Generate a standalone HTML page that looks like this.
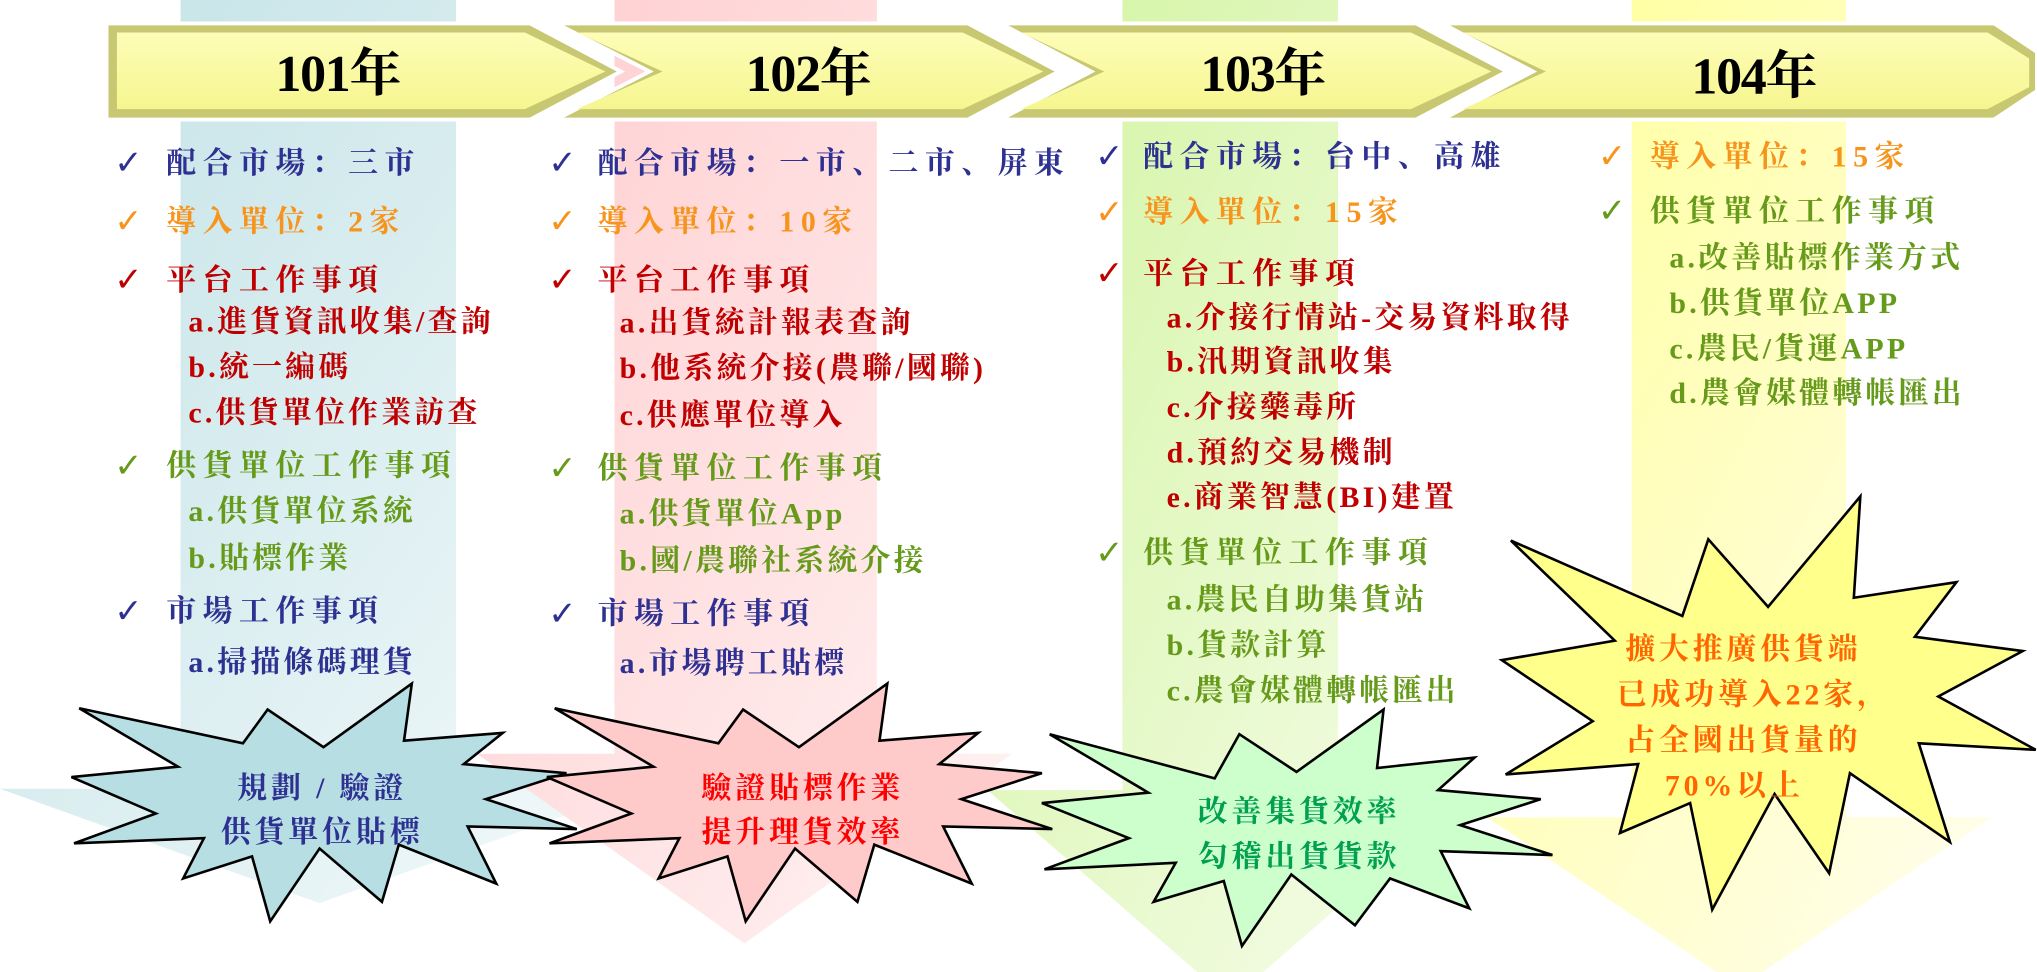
<!DOCTYPE html>
<html><head><meta charset="utf-8"><style>
html,body{margin:0;padding:0;background:#fff;}
svg{display:block;}
text{font-family:"Liberation Serif","Noto Serif CJK SC","Noto Serif CJK TC",serif;font-weight:bold;}
.h{font-size:23px;letter-spacing:5px;}
.s{font-size:23px;letter-spacing:2.5px;}
.ck{font-family:"DejaVu Sans",sans-serif;font-weight:normal;font-size:26px;}
.yr{font-size:40px;fill:#000;letter-spacing:-1px;}
.st{font-size:23px;letter-spacing:3px;}
</style></head><body>
<svg width="2037" height="972" viewBox="0 0 1568 748" preserveAspectRatio="none" xmlns="http://www.w3.org/2000/svg">
<defs>
<linearGradient id="gT" x1="0" y1="0" x2="1" y2="1"><stop offset="0" stop-color="#c2e2e6"/><stop offset="1" stop-color="#f4fafb"/></linearGradient>
<linearGradient id="gP" x1="0" y1="0" x2="1" y2="1"><stop offset="0" stop-color="#ffcdcf"/><stop offset="1" stop-color="#fff4f4"/></linearGradient>
<linearGradient id="gG" x1="0" y1="0" x2="1" y2="1"><stop offset="0" stop-color="#d2f4a0"/><stop offset="1" stop-color="#f8fdee"/></linearGradient>
<linearGradient id="gY" x1="0" y1="0" x2="1" y2="1"><stop offset="0" stop-color="#ffff99"/><stop offset="1" stop-color="#fffef0"/></linearGradient>
<linearGradient id="cv" x1="0" y1="0" x2="0" y2="1"><stop offset="0" stop-color="#fdfdb8"/><stop offset="1" stop-color="#f6f690"/></linearGradient>
</defs>
<polygon points="139,0 351,0 351,607 492,607 246,695 0,607 139,607" fill="url(#gT)"/>
<polygon points="473,0 675,0 675,580 779,580 573,726 367,580 473,580" fill="url(#gP)"/>
<polygon points="864,0 1030,0 1030,608 1134,608 947,770 760,608 864,608" fill="url(#gG)"/>
<polygon points="1256,0 1421,0 1421,629 1533,629 1339,760 1145,629 1256,629" fill="url(#gY)"/>
<g stroke="#fff" stroke-width="3">
<polygon points="1110,18 1535,18 1568,40 1568,70 1535,92 1110,92 1180,55" fill="#c8c872"/>
<polygon points="770,18 1090,18 1160,55 1090,92 770,92 840,55" fill="#c8c872"/>
<polygon points="428,18 745,18 815,55 745,92 428,92 500,55" fill="#c8c872"/>
<polygon points="82,18 408,18 478,55 408,92 82,92" fill="#c8c872"/>
</g>
<polygon points="1126,25 1530,25 1562,45 1562,67 1530,84 1126,84 1190,55" fill="url(#cv)"/>
<polygon points="786,25 1086,25 1148,55 1086,84 786,84 850,55" fill="url(#cv)"/>
<polygon points="444,25 741,25 803,55 741,84 444,84 510,55" fill="url(#cv)"/>
<polygon points="90,25 404,25 466,55 404,84 90,84" fill="url(#cv)"/>
<text class="yr" x="260" y="70" text-anchor="middle">101年</text>
<text class="yr" x="622" y="70" text-anchor="middle">102年</text>
<text class="yr" x="972" y="70" text-anchor="middle">103年</text>
<text class="yr" x="1350" y="72" text-anchor="middle">104年</text>

<g>
<text class="ck" x="88" y="134" fill="#2e3192">✓</text><text class="h" x="128" y="133" fill="#2e3192">配合市場：三市</text>
<text class="ck" x="88" y="179" fill="#f7941d">✓</text><text class="h" x="128" y="178" fill="#f7941d">導入單位：2家</text>
<text class="ck" x="88" y="224" fill="#c00000">✓</text><text class="h" x="128" y="223" fill="#c00000">平台工作事項</text>
<text class="s" x="145" y="255" fill="#c00000">a.進貨資訊收集/查詢</text>
<text class="s" x="145" y="290" fill="#c00000">b.統一編碼</text>
<text class="s" x="145" y="325" fill="#c00000">c.供貨單位作業訪查</text>
<text class="ck" x="88" y="367" fill="#669a1a">✓</text><text class="h" x="128" y="366" fill="#669a1a">供貨單位工作事項</text>
<text class="s" x="145" y="401" fill="#669a1a">a.供貨單位系統</text>
<text class="s" x="145" y="437" fill="#669a1a">b.貼標作業</text>
<text class="ck" x="88" y="479" fill="#2e3192">✓</text><text class="h" x="128" y="478" fill="#2e3192">市場工作事項</text>
<text class="s" x="145" y="517" fill="#2e3192">a.掃描條碼理貨</text>
</g>
<g>
<text class="ck" x="422" y="134" fill="#2e3192">✓</text><text class="h" x="460" y="133" fill="#2e3192">配合市場：一市、二市、屏東</text>
<text class="ck" x="422" y="179" fill="#f7941d">✓</text><text class="h" x="460" y="178" fill="#f7941d">導入單位：10家</text>
<text class="ck" x="422" y="224" fill="#c00000">✓</text><text class="h" x="460" y="223" fill="#c00000">平台工作事項</text>
<text class="s" x="477" y="256" fill="#c00000">a.出貨統計報表查詢</text>
<text class="s" x="477" y="291" fill="#c00000">b.他系統介接(農聯/國聯)</text>
<text class="s" x="477" y="327" fill="#c00000">c.供應單位導入</text>
<text class="ck" x="422" y="369" fill="#669a1a">✓</text><text class="h" x="460" y="368" fill="#669a1a">供貨單位工作事項</text>
<text class="s" x="477" y="403" fill="#669a1a">a.供貨單位App</text>
<text class="s" x="477" y="439" fill="#669a1a">b.國/農聯社系統介接</text>
<text class="ck" x="422" y="481" fill="#2e3192">✓</text><text class="h" x="460" y="480" fill="#2e3192">市場工作事項</text>
<text class="s" x="477" y="518" fill="#2e3192">a.市場聘工貼標</text>
</g>
<g>
<text class="ck" x="843" y="129" fill="#2e3192">✓</text><text class="h" x="880" y="128" fill="#2e3192">配合市場：台中、高雄</text>
<text class="ck" x="843" y="172" fill="#f7941d">✓</text><text class="h" x="880" y="171" fill="#f7941d">導入單位：15家</text>
<text class="ck" x="843" y="219" fill="#c00000">✓</text><text class="h" x="880" y="218" fill="#c00000">平台工作事項</text>
<text class="s" x="898" y="252" fill="#c00000">a.介接行情站-交易資料取得</text>
<text class="s" x="898" y="286" fill="#c00000">b.汛期資訊收集</text>
<text class="s" x="898" y="321" fill="#c00000">c.介接藥毒所</text>
<text class="s" x="898" y="356" fill="#c00000">d.預約交易機制</text>
<text class="s" x="898" y="390" fill="#c00000">e.商業智慧(BI)建置</text>
<text class="ck" x="843" y="434" fill="#669a1a">✓</text><text class="h" x="880" y="433" fill="#669a1a">供貨單位工作事項</text>
<text class="s" x="898" y="469" fill="#669a1a">a.農民自助集貨站</text>
<text class="s" x="898" y="504" fill="#669a1a">b.貨款計算</text>
<text class="s" x="898" y="539" fill="#669a1a">c.農會媒體轉帳匯出</text>
</g>
<g>
<text class="ck" x="1230" y="129" fill="#f7941d">✓</text><text class="h" x="1270" y="128" fill="#f7941d">導入單位：15家</text>
<text class="ck" x="1230" y="171" fill="#669a1a">✓</text><text class="h" x="1270" y="170" fill="#669a1a">供貨單位工作事項</text>
<text class="s" x="1285" y="206" fill="#669a1a">a.改善貼標作業方式</text>
<text class="s" x="1285" y="241" fill="#669a1a">b.供貨單位APP</text>
<text class="s" x="1285" y="276" fill="#669a1a">c.農民/貨運APP</text>
<text class="s" x="1285" y="310" fill="#669a1a">d.農會媒體轉帳匯出</text>
</g>

<polygon fill="#b7dfe3" stroke="#000" stroke-width="2" points="61,545 187,572 206,546 249,575 317,526 311,570 387,564 357,588 436,595 374,615 444,638 360,636 382,680 307,650 294,694 246,653 208,709 194,659 141,676 157,645 57,649 120,626 55,598 137,590"/>
<polygon fill="#ffcaca" stroke="#000" stroke-width="2" transform="translate(366,0)" points="61,545 187,572 206,546 249,575 317,526 311,570 387,564 357,588 436,595 374,615 444,638 360,636 382,680 307,650 294,694 246,653 208,709 194,659 141,676 157,645 57,649 120,626 55,598 137,590"/>
<polygon fill="#ccffcc" stroke="#000" stroke-width="2" points="808,565 935,599 954,565 998,594 1065,546 1060,591 1135,583 1107,608 1186,615 1124,635 1195,658 1109,655 1131,699 1070,676 1043,712 994,673 956,728 942,678 888,694 905,664 804,669 869,645 802,618 884,610"/>
<polygon fill="#ffff8c" stroke="#000" stroke-width="2" points="1163,416 1295,474 1315,415 1361,467 1432,382 1427,460 1506,448 1474,490 1557,501 1492,536 1567,577 1477,572 1501,648 1424,595 1408,672 1366,611 1318,700 1301,618 1247,641 1261,588 1159,596 1226,555 1156,508 1243,493"/>

<text class="st" x="248" y="614" text-anchor="middle" fill="#2e3192">規劃 / 驗證</text>
<text class="st" x="248" y="648" text-anchor="middle" fill="#2e3192">供貨單位貼標</text>
<text class="st" x="618" y="614" text-anchor="middle" fill="#ff0000">驗證貼標作業</text>
<text class="st" x="618" y="648" text-anchor="middle" fill="#ff0000">提升理貨效率</text>
<text class="st" x="1000" y="632" text-anchor="middle" fill="#00a050">改善集貨效率</text>
<text class="st" x="1000" y="667" text-anchor="middle" fill="#00a050">勾稽出貨貨款</text>
<text class="st" x="1342" y="507" text-anchor="middle" fill="#ff6600">擴大推廣供貨端</text>
<text class="st" x="1350" y="542" text-anchor="middle" fill="#ff6600">已成功導入22家，</text>
<text class="st" x="1342" y="577" text-anchor="middle" fill="#ff6600">占全國出貨量的</text>
<text class="st" x="1335" y="612" text-anchor="middle" fill="#ff6600">70%以上</text>
</svg>
</body></html>
